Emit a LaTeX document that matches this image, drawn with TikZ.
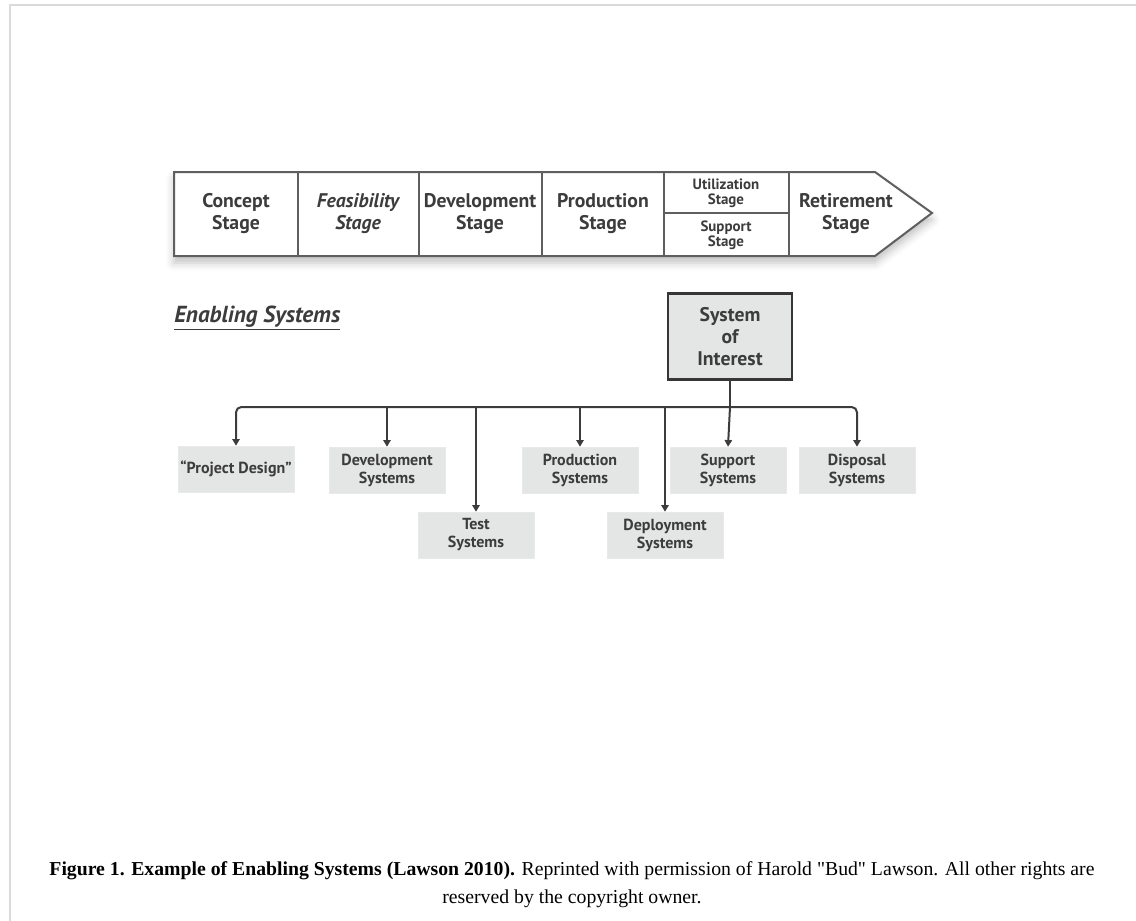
\documentclass[tikz,border=0pt]{standalone}
\usepackage{fontspec}
\setmainfont{Liberation Serif}[Ligatures=TeXOff]
\newfontfamily\diagfont{PT Sans}
\usetikzlibrary{arrows.meta, positioning, calc, shadows.blur}
\definecolor{ink}{RGB}{60, 60, 60}
\definecolor{edge}{RGB}{95, 95, 95}
\definecolor{boxfill}{RGB}{228, 229, 229}
\definecolor{framegray}{RGB}{218, 218, 218}
\tikzset{
  stagetxt/.style={
    font=\diagfont\bfseries\fontsize{14.8}{16.5}\selectfont,
    text=ink, align=center, inner sep=0pt
  },
  stagesmall/.style={
    font=\diagfont\bfseries\fontsize{11.2}{11}\selectfont,
    text=ink, align=center, inner sep=0pt
  },
  enabler/.style={
    fill=boxfill, draw=boxfill!85!white, minimum width=87pt, minimum height=34.5pt,
    font=\diagfont\bfseries\fontsize{12}{13.5}\selectfont,
    text=ink, align=center, inner sep=1pt
  },
  soibox/.style={
    draw=ink!90!black, line width=2.2pt, fill=boxfill,
    minimum width=93pt, minimum height=64pt,
    font=\diagfont\bfseries\fontsize{14.8}{16.5}\selectfont,
    text=ink, align=center
  },
  trunk/.style={line width=1.5pt, draw=ink},
  conn/.style={-{Triangle[length=5pt, width=5.5pt]}, line width=1.5pt, draw=ink},
  band/.style={draw=edge, line width=1.5pt, fill=white,
    blur shadow={shadow xshift=0pt, shadow yshift=-5pt, shadow opacity=25,
                 shadow blur radius=6pt}},
  divider/.style={draw=edge, line width=1.5pt},
}

\begin{document}
\begin{tikzpicture}[x=0.75pt, y=-0.75pt]

  \useasboundingbox (0,0) rectangle (1136,921);

  % page frame (top and left edge only)
  \draw[framegray, line width=1.5pt] (10,921) -- (10,5) -- (1136,5);

  % ============ LIFE CYCLE STAGES ============
  \path[band] (174,172) -- (875,172) -- (932,213) -- (875,256)
    -- (174,256) -- cycle;
  \foreach \x in {298, 419, 542, 664, 789} {
    \draw[divider] (\x,172) -- (\x,256);
  }
  \draw[divider] (664,213) -- (789,213);

  \node[stagetxt] (concept)  at (236,214) {Concept\\Stage};
  \node[stagetxt] (feasible) at (358,214) {\itshape Feasibility\\\itshape Stage};
  \node[stagetxt] (develop)  at (480,214) {Development\\Stage};
  \node[stagetxt] (produce)  at (603,214) {Production\\Stage};
  \node[stagesmall] (utilize) at (726,193) {Utilization\\Stage};
  \node[stagesmall, font=\diagfont\bfseries\fontsize{11.2}{9}\selectfont]
    (supstage) at (726,235) {Support\\Stage};
  \node[stagetxt] (retire)   at (846,214) {Retirement\\Stage};

  % ============ ENABLING SYSTEMS ============
  \node[font=\diagfont\bfseries\itshape\fontsize{17.4}{20}\selectfont, text=ink,
        anchor=west, inner sep=0pt] (title) at (174,318)
        {\underline{Enabling Systems}};

  \node[soibox] (soi) at (730,336.5) {System\\of\\Interest};

  \node[enabler] (pd)       at (236,469) {“Project Design”};
  \node[enabler] (devsys)   at (387,470) {Development\\Systems};
  \node[enabler] (testsys)  at (476,535) {Test\\Systems};
  \node[enabler] (prodsys)  at (580,470) {Production\\Systems};
  \node[enabler] (deploy)   at (665,535) {Deployment\\Systems};
  \node[enabler] (support)  at (728,470) {Support\\Systems};
  \node[enabler] (disposal) at (857,470) {Disposal\\Systems};

  % bus below the system of interest
  \coordinate (bus) at (soi.south |- 0,407);
  \draw[trunk] (soi.south) -- (bus);
  \draw[conn, rounded corners=4pt] (bus) -| (pd.north);
  \draw[conn, rounded corners=4pt] (bus) -| (disposal.north);
  \draw[conn] (bus) -- (support.north);
  \foreach \n in {devsys, testsys, prodsys, deploy} {
    \draw[conn] (bus -| \n.north) -- (\n.north);
  }

  % Caption
  \node[font=\fontsize{14.8}{20.5}\selectfont, align=center, inner sep=0pt,
        anchor=base] (caption) at (572,903)
    {\textbf{Figure 1. Example of Enabling Systems (Lawson 2010).} Reprinted with
     permission of Harold "Bud" Lawson. All other rights are\\
     reserved by the copyright owner.};

\end{tikzpicture}
\end{document}
